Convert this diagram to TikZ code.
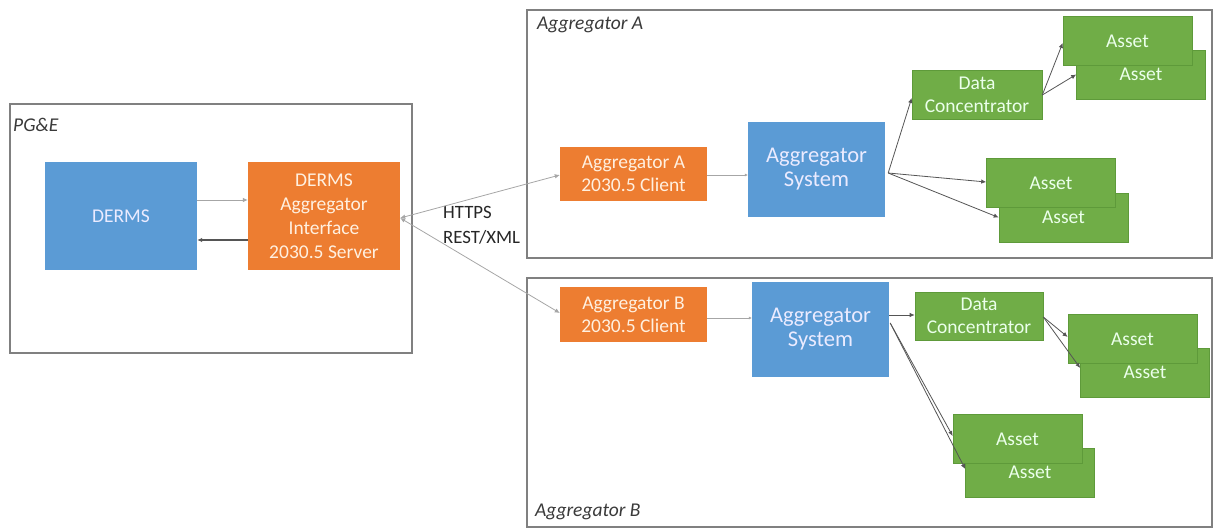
\documentclass[tikz,border=0pt]{standalone}
\usepackage{fontspec}
\setmainfont{Carlito}
\usetikzlibrary{arrows.meta}
\definecolor{cblue}{HTML}{5B9BD5}
\definecolor{corange}{HTML}{ED7D31}
\definecolor{cgreen}{HTML}{70AD47}
\definecolor{cgreenline}{HTML}{5E9A3A}
\definecolor{cframe}{HTML}{808080}
\definecolor{clabel}{HTML}{3A3A3A}
\definecolor{cline}{HTML}{555555}
\tikzset{
  x=1pt, y=-1pt,
  frame/.style={draw=cframe, line width=1.4pt, fill=white, inner sep=0pt},
  framelabel/.style={anchor=west, inner sep=0pt, text=clabel, font=\fontsize{19.5}{22}\selectfont\itshape},
  basebox/.style={inner sep=0pt, align=center, font=\fontsize{19.5}{24}\selectfont},
  bluebox/.style={basebox, fill=cblue, text=blue!8!white},
  orangebox/.style={basebox, fill=corange, text=orange!12!white},
  greenbox/.style={basebox, fill=cgreen, draw=cgreenline, line width=0.6pt, text=green!8!white,
    minimum width=129pt, minimum height=49pt},
  conn/.style={draw=cline, line width=0.8pt, -{Latex[length=5pt,width=4.5pt]}},
  faint/.style={conn, draw=gray!70},
}
\begin{document}
\begin{tikzpicture}
\useasboundingbox (0,0) rectangle (1216,529);

% enclosing frames
\node[frame, minimum width=402pt, minimum height=249pt] (pge) at (211,228.5) {};
\node[frame, minimum width=685pt, minimum height=248pt] (aggA) at (869.5,134) {};
\node[frame, minimum width=685pt, minimum height=249pt] (aggB) at (869.5,402.5) {};
\node[framelabel] (pgeLabel) at (13,125) {PG\&E};
\node[framelabel] (aggALabel) at (537,25) {Aggregator A};
\node[framelabel] (aggBLabel) at (535,512) {Aggregator B};

% utility side
\node[bluebox, minimum width=152pt, minimum height=108pt] (derms) at (121,216) {DERMS};
\node[orangebox, minimum width=152pt, minimum height=108pt] (iface) at (324,216)
  {DERMS\\Aggregator\\Interface\\2030.5 Server};

% aggregator clients
\node[orangebox, minimum width=147pt, minimum height=54pt, font=\fontsize{19.5}{23}\selectfont] (clientA) at (633.5,174)
  {Aggregator A\\2030.5 Client};
\node[orangebox, minimum width=147pt, minimum height=55pt, font=\fontsize{19.5}{23}\selectfont] (clientB) at (633.5,314.5)
  {Aggregator B\\2030.5 Client};

% aggregator systems
\node[bluebox, minimum width=137pt, minimum height=95pt, font=\fontsize{22.5}{24}\selectfont] (sysA) at (816.5,169.5)
  {Aggregator\\System};
\node[bluebox, minimum width=137pt, minimum height=95pt, font=\fontsize{22.5}{24}\selectfont] (sysB) at (820.5,329.5)
  {Aggregator\\System};

% data concentrators
\node[greenbox, minimum width=130pt, font=\fontsize{19.5}{23}\selectfont] (dcA) at (977,94.5) {Data\\Concentrator};
\node[greenbox, minimum width=128pt, minimum height=48pt, font=\fontsize{19.5}{23}\selectfont] (dcB) at (979,316) {Data\\Concentrator};

% assets (back copy first, front copy on top)
\node[greenbox] (assetA1b) at (1141,74.5) {Asset};
\node[greenbox] (assetA1f) at (1127.5,41) {Asset};
\node[greenbox] (assetA2b) at (1063.5,217.5) {Asset};
\node[greenbox] (assetA2f) at (1051,183) {Asset};
\node[greenbox] (assetB1b) at (1145,372.5) {Asset};
\node[greenbox] (assetB1f) at (1132.5,339) {Asset};
\node[greenbox] (assetB2b) at (1030,472.5) {Asset};
\node[greenbox] (assetB2f) at (1017.5,439) {Asset};

% protocol label
\node[anchor=west, inner sep=0pt, align=left, text=black!85, font=\fontsize{18.8}{25}\selectfont] (proto) at (443,225.5)
  {HTTPS\\REST/XML};

% DERMS <-> interface
\draw[faint] ([yshift=16pt]derms.east) -- ([yshift=16pt]iface.west);
\draw[conn, line width=1.1pt] ([yshift=-24pt]iface.west) -- ([yshift=-24pt]derms.east);

% interface <-> clients
\draw[faint, {Latex[length=5pt,width=4.5pt]}-{Latex[length=5pt,width=4.5pt]}]
  ([yshift=-2pt]iface.east) -- ([yshift=-1pt]clientA.west);
\draw[faint, {Latex[length=5pt,width=4.5pt]}-{Latex[length=5pt,width=4.5pt]}]
  ([yshift=-2pt]iface.east) -- ([yshift=1.5pt]clientB.west);

% clients -> systems
\draw[faint, -{Latex[length=3pt,width=3pt]}] ([yshift=-1pt]clientA.east) -- ([yshift=-5.5pt]sysA.west);
\draw[faint, -{Latex[length=3pt,width=3pt]}] ([yshift=-3.5pt]clientB.east) -- ([yshift=11.5pt]sysB.west);

% aggregator A fan-out
\draw[conn] ([xshift=3pt,yshift=-3.5pt]sysA.east) -- ([yshift=-3.5pt]dcA.west);
\draw[conn] ([xshift=3pt,yshift=-3.5pt]sysA.east) -- ([yshift=1pt]assetA2f.west);
\draw[conn] ([xshift=3pt,yshift=-3.5pt]sysA.east) -- (assetA2b.west);
\draw[conn] ([yshift=-0.5pt]dcA.east) -- ([yshift=-2pt]assetA1f.west);
\draw[conn] ([yshift=-0.5pt]dcA.east) -- (assetA1b.west);

% aggregator B fan-out
\draw[conn] ([yshift=14.5pt]sysB.east) -- ([yshift=1pt]dcB.west);
\draw[conn] ([xshift=1pt,yshift=6.5pt]sysB.east) -- ([yshift=3pt]assetB2f.west);
\draw[conn] ([xshift=1pt,yshift=6.5pt]sysB.east) -- ([yshift=3.5pt]assetB2b.west);
\draw[conn] ([yshift=-1pt]dcB.east) -- ([yshift=2pt]assetB1f.west);
\draw[conn] ([yshift=-1pt]dcB.east) -- ([yshift=4.5pt]assetB1b.west);
\end{tikzpicture}
\end{document}
